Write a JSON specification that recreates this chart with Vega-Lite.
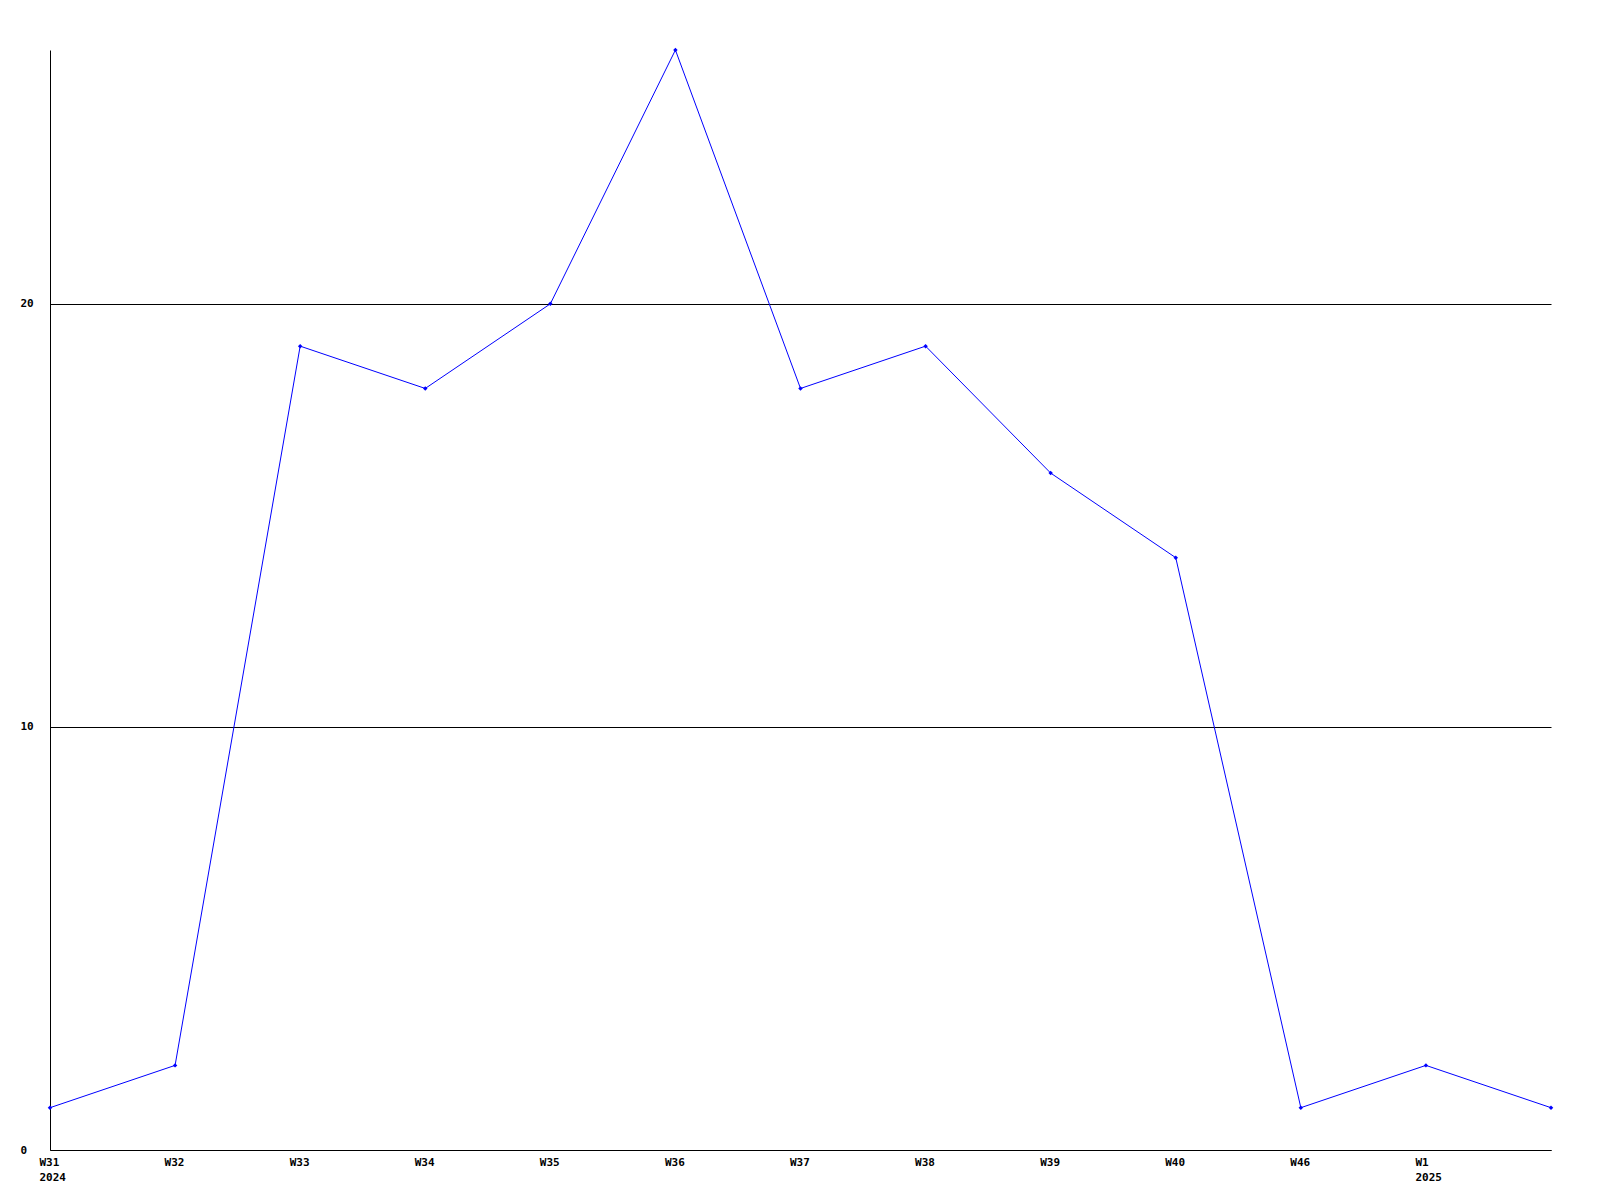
{
  "$schema": "https://vega.github.io/schema/vega-lite/v6.json",
  "width": 1501,
  "height": 1100,
  "autosize": {"type": "none"},
  "padding": {"left": 50, "top": 50, "right": 49, "bottom": 50},
  "background": "white",
  "config": {"view": {"stroke": null}},
  "data": {"values": [
    {"week": "W31", "value": 1},
    {"week": "W32", "value": 2},
    {"week": "W33", "value": 19},
    {"week": "W34", "value": 18},
    {"week": "W35", "value": 20},
    {"week": "W36", "value": 26},
    {"week": "W37", "value": 18},
    {"week": "W38", "value": 19},
    {"week": "W39", "value": 16},
    {"week": "W40", "value": 14},
    {"week": "W46", "value": 1},
    {"week": "W1", "value": 2},
    {"week": "W2", "value": 1}
  ]},
  "encoding": {
    "x": {"field": "week", "type": "ordinal", "sort": null,
      "scale": {"type": "point", "padding": 0},
      "axis": {"title": null, "labelAngle": 0, "ticks": false, "grid": false,
        "domainColor": "black", "domainWidth": 1,
        "labelFont": "DejaVu Sans Mono", "labelFontWeight": "bold", "labelFontSize": 11, "labelColor": "black",
        "labelAlign": "left", "labelOffset": -11, "labelBaseline": "top", "labelPadding": 6,
        "labelLineHeight": 15,
        "labelExpr": "datum.value == 'W31' ? ['W31','2024'] : (datum.value == 'W1' ? ['W1','2025'] : (datum.value == 'W2' ? '' : datum.value))"}},
    "y": {"field": "value", "type": "quantitative",
      "scale": {"domain": [0, 26], "nice": false, "zero": true},
      "axis": {"title": null, "values": [0, 10, 20], "ticks": false, "grid": true,
        "gridColor": "black", "gridOpacity": 1, "gridWidth": 1,
        "domainColor": "black", "domainWidth": 1,
        "labelFont": "DejaVu Sans Mono", "labelFontWeight": "bold", "labelFontSize": 11, "labelColor": "black",
        "labelAlign": "left", "labelPadding": 30, "labelBaseline": "middle"}}
  },
  "layer": [
    {"mark": {"type": "line", "color": "#0000ff", "strokeWidth": 1}},
    {"mark": {"type": "point", "shape": "diamond", "filled": true, "color": "#0000ff", "size": 20, "opacity": 1}}
  ]
}
